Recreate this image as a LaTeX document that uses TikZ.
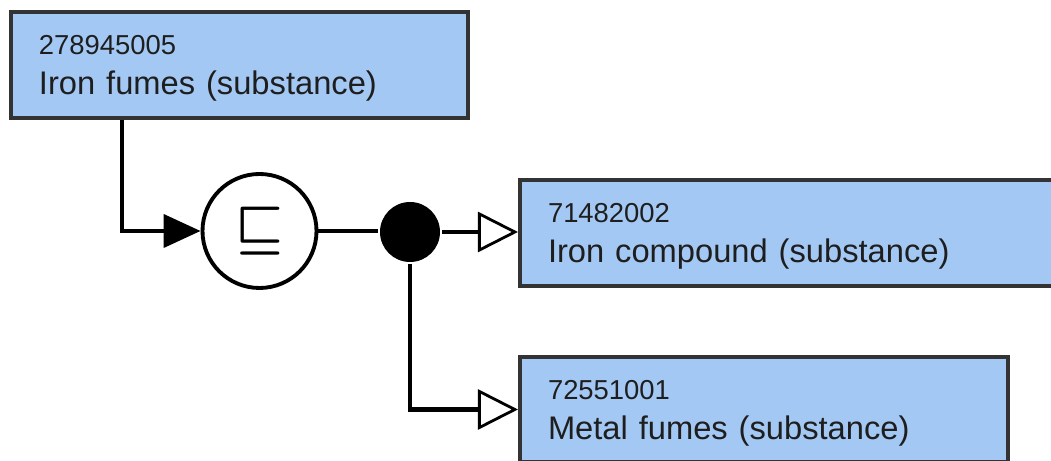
\documentclass[tikz,border=0pt]{standalone}
\usepackage{fontspec}
\usepackage{graphicx}
\setmainfont{Liberation Sans}
\usetikzlibrary{arrows.meta, positioning, calc}
\definecolor{cfill}{HTML}{A4C8F4}
\definecolor{cedge}{HTML}{333333}
\definecolor{ctext}{HTML}{1E1E1E}
\newcommand{\idfont}{\fontsize{15.6}{22.8}\selectfont}
\newcommand{\namefont}{\fontsize{18.6}{22.8}\selectfont}
\tikzset{
  every picture/.style={line width=2.3pt},
  concept/.style={draw=cedge, fill=cfill, rectangle, align=left, text=ctext, font=\namefont, inner xsep=0.56cm, inner ysep=0pt, minimum height=2.11cm, text width=#1},
  relation/.style={draw=black, fill=white, circle, line width=2.2pt, minimum size=2.28cm, inner sep=0pt},
  junction/.style={fill=black, circle, minimum size=1.2cm, inner sep=0pt},
  link/.style={draw=black, line width=2.3pt},
  isa/.style={-{Triangle[fill=white, length=0.8cm, width=0.8cm, line width=1.6pt]}},
  given/.style={-{Triangle[length=0.74cm, width=0.66cm]}},
}

\begin{document}
\begin{tikzpicture}
  \useasboundingbox (0,0) rectangle (21.02,9.22);
  % concepts
  \node[concept=8.02cm] (fumes) at (4.79,7.92)
    {{\idfont\rule{0pt}{15.0pt}278945005}\\Iron fumes (substance)\rule[-4pt]{0pt}{4pt}};
  \node[concept=9.72cm] (compound) at (15.82,4.56)
    {{\idfont\rule{0pt}{15.0pt}71482002}\\Iron compound (substance)\rule[-4pt]{0pt}{4pt}};
  \node[concept=8.64cm] (metal) at (15.28,1.03)
    {{\idfont\rule{0pt}{15.0pt}72551001}\\Metal fumes (substance)\rule[-4pt]{0pt}{4pt}};
  % definition status and group
  \node[relation] (rel) at (5.19,4.6) {\raisebox{4pt}{\scalebox{3.05}{\boldmath$\sqsubseteq$}}};
  \node[junction] (split) at (8.20,4.58) {};
  \coordinate (bend) at (2.44,4.6);
  % connectors
  \draw[link, given] (fumes.south -| bend) -- (bend) -- (rel.west);
  \draw[link] (rel.east) -- (rel.east -| split.west);
  \draw[link, isa] (split.east) -- (split.east -| compound.west);
  \draw[link, isa] (split.south) |- (metal.west);
\end{tikzpicture}
\end{document}
